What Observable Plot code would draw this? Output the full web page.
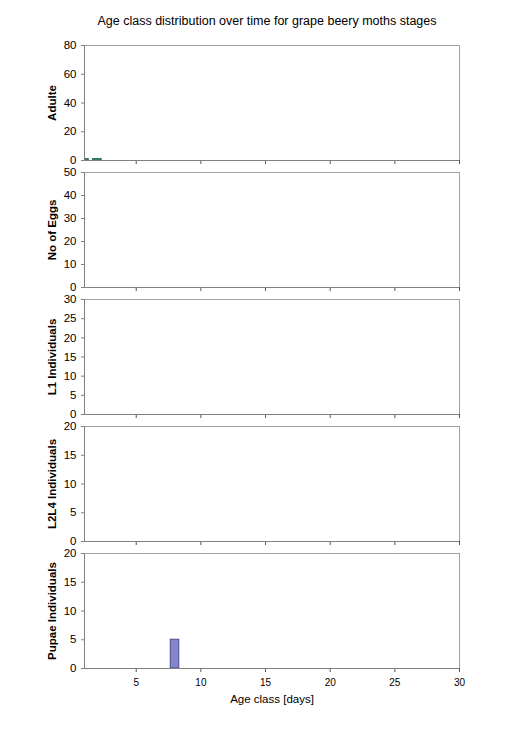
<!DOCTYPE html>
<html>
<head>
<meta charset="utf-8">
<script src="https://cdn.jsdelivr.net/npm/d3@7"></script>
<script src="https://cdn.jsdelivr.net/npm/@observablehq/plot@0.6"></script>
<style>
  html, body { margin: 0; padding: 0; background: #fff; }
  #chart { position: relative; width: 524px; height: 741px; font-family: "Liberation Sans", Arial, sans-serif; }
  #title { position: absolute; left: 0; width: 534px; top: 14px; text-align: center; font-size: 12.5px; color: #000; }
  .panel { position: absolute; left: 0; }
</style>
</head>
<body>
<div id="chart"><div id="title">Age class distribution over time for grape beery moths stages</div></div>
<script>
// Age classes (days)
const ageClasses = d3.range(1, 31);
// Counts per age class (1..30) for each stage
const adultCounts = [1, 1, 0, 0, 0, 0, 0, 0, 0, 0, 0, 0, 0, 0, 0, 0, 0, 0, 0, 0, 0, 0, 0, 0, 0, 0, 0, 0, 0, 0];
const eggCounts   = [0, 0, 0, 0, 0, 0, 0, 0, 0, 0, 0, 0, 0, 0, 0, 0, 0, 0, 0, 0, 0, 0, 0, 0, 0, 0, 0, 0, 0, 0];
const l1Counts    = [0, 0, 0, 0, 0, 0, 0, 0, 0, 0, 0, 0, 0, 0, 0, 0, 0, 0, 0, 0, 0, 0, 0, 0, 0, 0, 0, 0, 0, 0];
const l2l4Counts  = [0, 0, 0, 0, 0, 0, 0, 0, 0, 0, 0, 0, 0, 0, 0, 0, 0, 0, 0, 0, 0, 0, 0, 0, 0, 0, 0, 0, 0, 0];
const pupaeCounts = [0, 0, 0, 0, 0, 0, 0, 5, 0, 0, 0, 0, 0, 0, 0, 0, 0, 0, 0, 0, 0, 0, 0, 0, 0, 0, 0, 0, 0, 0];

const panelLabels = ["Adulte", "No of Eggs", "L1 Individuals", "L2L4 Individuals", "Pupae Individuals"];
const panelMax = [80, 50, 30, 20, 20];
const panelStep = [20, 10, 5, 5, 5];
const panelColors = ["#3f9a74", "#3f9a74", "#3f9a74", "#3f9a74", "#8585c9"];
const panelStrokes = ["#2a6e50", "#2a6e50", "#2a6e50", "#2a6e50", "#4b4b96"];
const xTicks = [5, 10, 15, 20, 25, 30];
const xLabel = "Age class [days]";
const series = [adultCounts, eggCounts, l1Counts, l2l4Counts, pupaeCounts];

const panelTop0 = 45, panelGap = 127, plotH = 115;
const chart = document.getElementById("chart");

series.forEach((counts, i) => {
  const last = i === series.length - 1;
  const mt = 10, mb = last ? 50 : 10;
  const data = ageClasses.map((a, j) => ({age: a, count: counts[j]})).filter(d => d.count > 0);
  const p = Plot.plot({
    width: 524,
    height: plotH + mt + mb,
    marginLeft: 84,
    marginRight: 65,
    marginTop: mt,
    marginBottom: mb,
    style: {fontFamily: "Liberation Sans, Arial, sans-serif", fontSize: "11.5px", color: "#000", overflow: "visible"},
    x: {domain: [1, 30]},
    y: {domain: [0, panelMax[i]]},
    marks: [
      Plot.rectY(data, {x1: d => d.age - 0.33, x2: d => d.age + 0.33, y: "count", fill: panelColors[i], stroke: panelStrokes[i], strokeWidth: 1, clip: true}),
      Plot.frame({stroke: "#a0a0a0"}),
      Plot.axisY({
        ticks: d3.range(0, panelMax[i] + 1, panelStep[i]),
        tickSize: 3, tickPadding: 5, stroke: "#808080",
        label: panelLabels[i], labelAnchor: "center", labelOffset: 37, labelArrow: "none"
      }),
      Plot.axisX({
        ticks: xTicks, tickSize: 4, tickPadding: 6, stroke: "#555",
        tickFormat: last ? d => String(d) : () => "",
        fontSize: 10,
        label: last ? xLabel : null, labelAnchor: "center", labelOffset: 34, labelArrow: "none"
      }),
      Plot.ruleX([1], {stroke: "#808080"}),
      Plot.ruleY([0], {stroke: "#808080"})
    ]
  });
  p.classList.add("panel");
  p.style.top = (panelTop0 + i * panelGap - mt) + "px";
  p.querySelectorAll("text").forEach(t => {
    if (t.textContent === panelLabels[i]) { t.setAttribute("font-weight", "bold"); t.style.fontWeight = "bold"; }
    if (t.textContent === xLabel) { t.setAttribute("font-size", "11.5"); }
  });
  chart.appendChild(p);
});
</script>
</body>
</html>
